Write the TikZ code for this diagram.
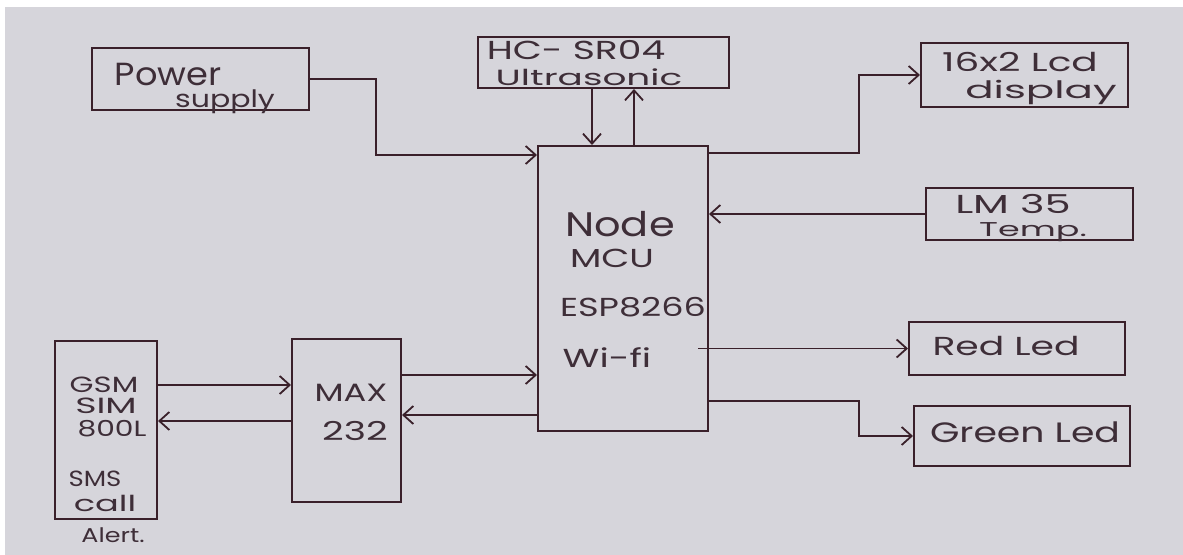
\documentclass[tikz,border=0pt]{standalone}
\usepackage{fontspec}
\setmainfont{Poppins}
\usepackage{graphicx}
\usetikzlibrary{arrows.meta,calc}
\definecolor{paper}{RGB}{214,213,219}
\definecolor{ink}{RGB}{58,32,42}
\definecolor{pen}{RGB}{62,46,56}
\newcommand{\hwtext}[3]{\fontsize{#1}{#1}\selectfont\scalebox{#2}[1]{#3}}
\begin{document}
\begin{tikzpicture}[x=0.5pt,y=-0.5pt,
  blk/.style={draw=ink,line width=1pt,inner sep=0pt},
  lbl/.style={text=pen,inner sep=0pt,anchor=base},
  arr/.style={draw=ink,line width=0.9pt,-{Straight Barb[length=5pt,width=9pt,line width=0.9pt]}}]
\useasboundingbox (0,0) rectangle (1183,555);
\fill[white] (0,0) rectangle (1183,555);
\fill[paper] (5,7) rectangle (1183,555);
% blocks
\node[blk,minimum width=108.5pt,minimum height=31pt] (pow) at (200.5,79) {};
\node[blk,minimum width=125.5pt,minimum height=25.5pt] (hc) at (603.5,62.5) {};
\node[blk,minimum width=103.5pt,minimum height=32pt] (lcd) at (1024.5,75) {};
\node[blk,minimum width=103.5pt,minimum height=26pt] (lm) at (1029.5,214) {};
\node[blk,minimum width=108pt,minimum height=26.5pt] (red) at (1017,348.5) {};
\node[blk,minimum width=108pt,minimum height=30pt] (green) at (1022,436) {};
\node[blk,minimum width=51pt,minimum height=89pt] (gsm) at (106,430) {};
\node[blk,minimum width=54.5pt,minimum height=81.5pt] (max) at (346.5,420.5) {};
\node[blk,minimum width=85pt,minimum height=142.5pt] (mcu) at (623,288.5) {};
% labels
\node[lbl] (tpow1) at (168,86) {\hwtext{16}{1.1}{Power}};
\node[lbl] (tpow2) at (225,108) {\hwtext{12}{1.25}{supply}};
\node[lbl] (thc1) at (576,60) {\hwtext{13}{1.45}{HC- SR04}};
\node[lbl] (thc2) at (589,86) {\hwtext{11}{1.7}{Ultrasonic}};
\node[lbl] (tlcd1) at (1020,72) {\hwtext{13}{1.5}{16x2 Lcd}};
\node[lbl] (tlcd2) at (1041,99) {\hwtext{12}{1.75}{display}};
\node[lbl] (tlm1) at (1013,214) {\hwtext{13}{1.6}{LM 35}};
\node[lbl] (tlm2) at (1033,237) {\hwtext{10}{1.75}{Temp.}};
\node[lbl] (tred) at (1006,356) {\hwtext{13}{1.45}{Red Led}};
\node[lbl] (tgreen) at (1025,443) {\hwtext{14}{1.35}{Green Led}};
\node[lbl] (tmcu1) at (620,237) {\hwtext{17}{1.22}{Node}};
\node[lbl] (tmcu2) at (612,268) {\hwtext{13}{1.4}{MCU}};
\node[lbl] (tmcu3) at (633,317) {\hwtext{13}{1.35}{ESP8266}};
\node[lbl] (tmcu4) at (607,368) {\hwtext{13}{1.45}{Wi-fi}};
\node[lbl] (tmax1) at (351,402) {\hwtext{12.5}{1.35}{MAX}};
\node[lbl] (tmax2) at (355,441) {\hwtext{13}{1.45}{232}};
\node[lbl] (tgsm1) at (104,393) {\hwtext{11}{1.4}{GSM}};
\node[lbl] (tgsm2) at (106,414) {\hwtext{11}{1.65}{SIM}};
\node[lbl] (tgsm3) at (112,437) {\hwtext{11}{1.35}{800L}};
\node[lbl] (tgsm4) at (95,487) {\hwtext{11}{1.18}{SMS}};
\node[lbl] (tgsm5) at (105,511) {\hwtext{11}{1.6}{call}};
\node[lbl] (tgsm6) at (113,542) {\hwtext{10}{1.27}{Alert.}};
% connectors
\draw[arr] (pow.east) -- (376,79) |- (mcu.west |- 0,155);
\draw[arr] (hc.south -| 592,0) -- (mcu.north -| 592,0);
\draw[arr] (mcu.north -| 634,0) -- (hc.south -| 634,0);
\draw[arr] (mcu.east |- 0,153) -- (859,153) |- (lcd.west);
\draw[arr] (lm.west) -- (lm.west -| mcu.east);
\draw[arr] ($(red.west -| mcu.east)+(-11,0)$) -- (red.west);
\draw[arr] (mcu.east |- 0,401) -- (859,401) |- (green.west);
\draw[arr] (gsm.east |- 0,385) -- (max.west |- 0,385);
\draw[arr] (max.west |- 0,421) -- (gsm.east |- 0,421);
\draw[arr] (max.east |- 0,375) -- (mcu.west |- 0,375);
\draw[arr] (mcu.west |- 0,415) -- (max.east |- 0,415);
\end{tikzpicture}
\end{document}
